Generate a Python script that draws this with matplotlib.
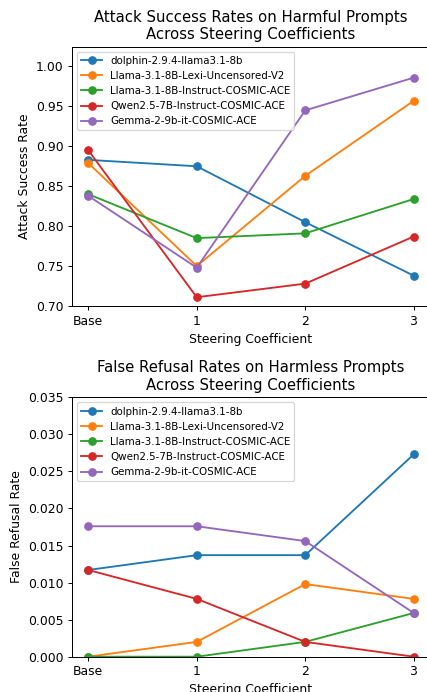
"""
Attack success and false refusal rates across steering coefficients.
"""

import matplotlib

matplotlib.use("Agg")
import matplotlib.pyplot as plt

COEFFS = ["Base", "1", "2", "3"]
MODELS = [
    "dolphin-2.9.4-llama3.1-8b",
    "Llama-3.1-8B-Lexi-Uncensored-V2",
    "Llama-3.1-8B-Instruct-COSMIC-ACE",
    "Qwen2.5-7B-Instruct-COSMIC-ACE",
    "Gemma-2-9b-it-COSMIC-ACE",
]

# attack success rate on harmful prompts
ASR_DOLPHIN = [0.883, 0.875, 0.805, 0.738]
ASR_LEXI = [0.879, 0.750, 0.863, 0.957]
ASR_LLAMA_ACE = [0.840, 0.785, 0.791, 0.834]
ASR_QWEN_ACE = [0.895, 0.711, 0.728, 0.787]
ASR_GEMMA_ACE = [0.838, 0.748, 0.945, 0.986]

# false refusal rate on harmless prompts
FRR_DOLPHIN = [0.0117, 0.0137, 0.0137, 0.0273]
FRR_LEXI = [0.0, 0.0020, 0.0098, 0.0078]
FRR_LLAMA_ACE = [0.0, 0.0, 0.0020, 0.0059]
FRR_QWEN_ACE = [0.0117, 0.0078, 0.0020, 0.0]
FRR_GEMMA_ACE = [0.0176, 0.0176, 0.0156, 0.0059]

ASR = [ASR_DOLPHIN, ASR_LEXI, ASR_LLAMA_ACE, ASR_QWEN_ACE, ASR_GEMMA_ACE]
FRR = [FRR_DOLPHIN, FRR_LEXI, FRR_LLAMA_ACE, FRR_QWEN_ACE, FRR_GEMMA_ACE]

DPI = 89


def draw_panel(axis, series, title, ylabel, ylim):
    """
    Draws one line panel with a model per line.
    """
    x = range(len(COEFFS))
    for name, values in zip(MODELS, series):
        axis.plot(x, values, marker="o", label=name)
    axis.set_xticks(list(x))
    axis.set_xticklabels(COEFFS)
    axis.set_xlim(-0.15, 3.15)
    axis.set_ylim(*ylim)
    axis.set_title(title)
    axis.set_xlabel("Steering Coefficient")
    axis.set_ylabel(ylabel)
    axis.legend(loc="upper left", fontsize="small")


fig = plt.figure(figsize=(427 / DPI, 692 / DPI), dpi=DPI)
top = fig.add_axes([0.1686, 0.5578, 0.8384, 0.375])
bottom = fig.add_axes([0.1686, 0.051, 0.8384, 0.3749])

draw_panel(
    top,
    ASR,
    "Attack Success Rates on Harmful Prompts\nAcross Steering Coefficients",
    "Attack Success Rate",
    (0.70, 1.025),
)
draw_panel(
    bottom,
    FRR,
    "False Refusal Rates on Harmless Prompts\nAcross Steering Coefficients",
    "False Refusal Rate",
    (0.0, 0.035),
)

fig.savefig("out.png", dpi=DPI)
plt.close(fig)
